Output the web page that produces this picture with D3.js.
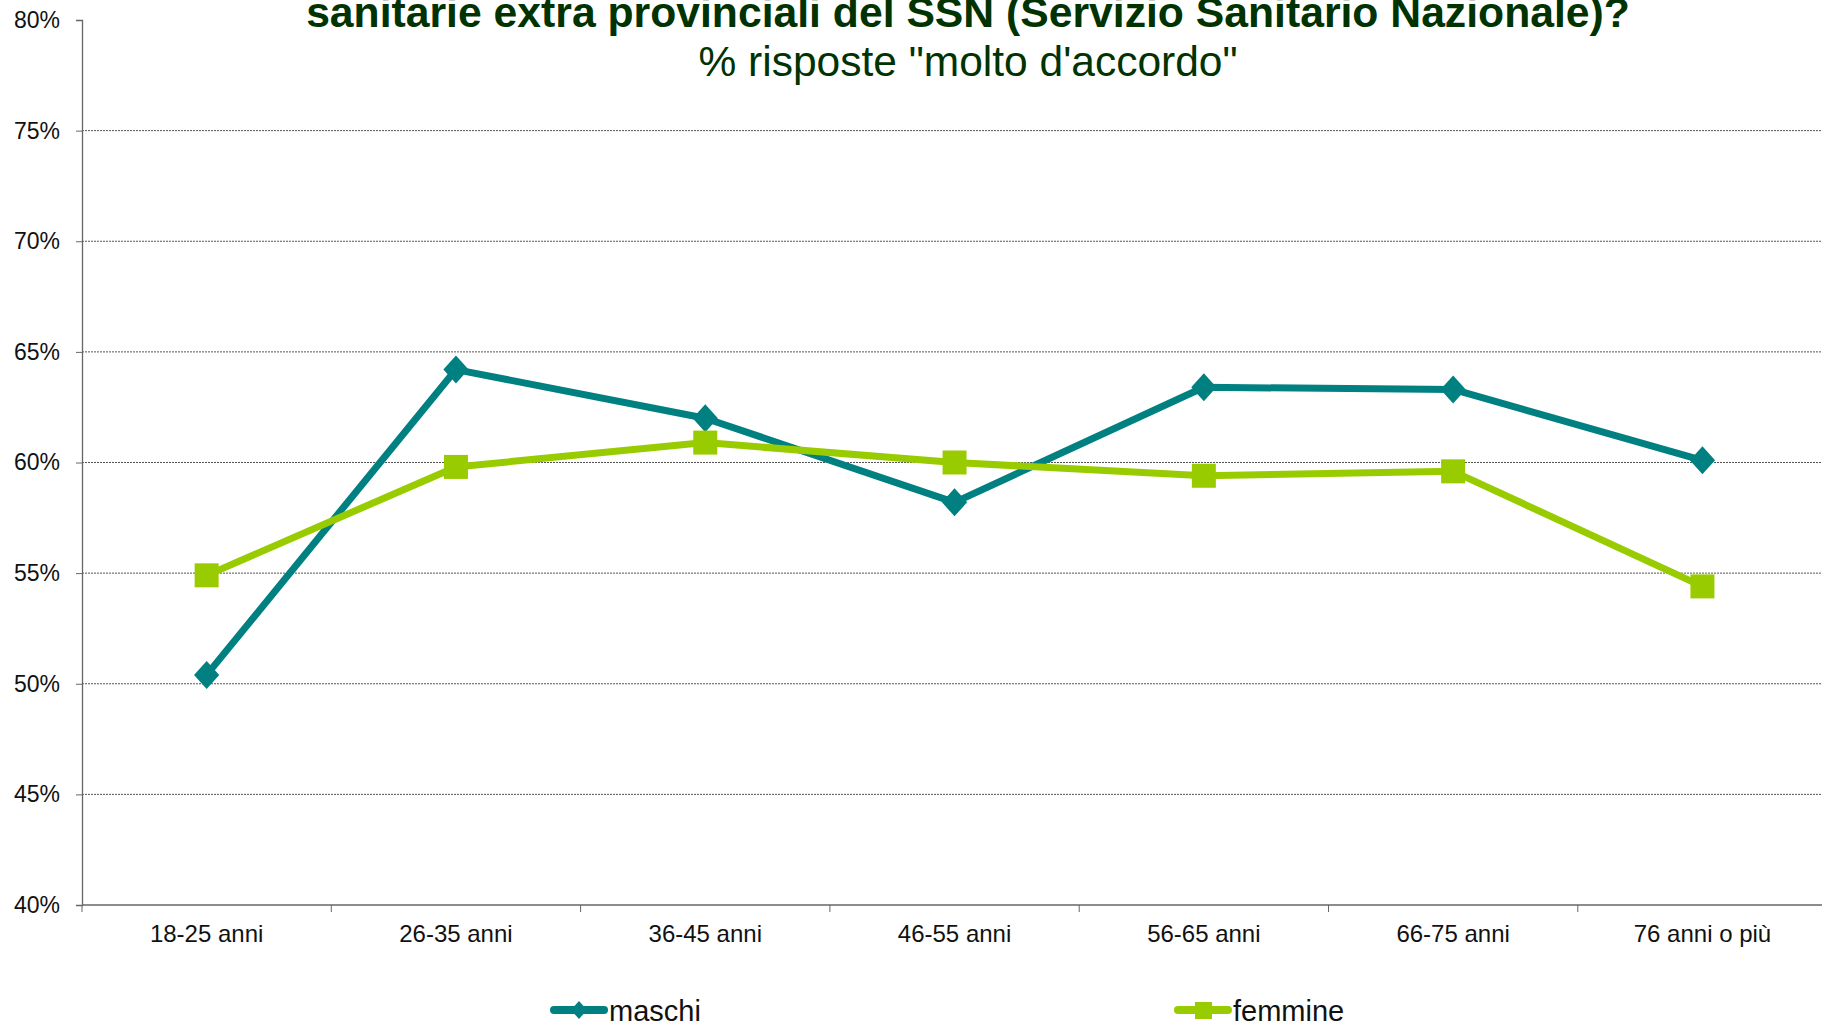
<!DOCTYPE html>
<html><head><meta charset="utf-8">
<script src="https://cdn.jsdelivr.net/npm/d3@7"></script>
<style>
html,body{margin:0;padding:0;background:#fff;overflow:hidden;}
svg{display:block;font-family:"Liberation Sans",Arial,sans-serif;}
</style></head>
<body>
<svg id="chart" width="1822" height="1025"></svg>
<script>
const categories = ["18-25 anni","26-35 anni","36-45 anni","46-55 anni","56-65 anni","66-75 anni","76 anni o più"];
const maschi  = [50.4, 64.2, 62.0, 58.2, 63.4, 63.3, 60.1];
const femmine = [54.9, 59.8, 60.9, 60.0, 59.4, 59.6, 54.4];
const yTicks = [40,45,50,55,60,65,70,75,80];
const titleLine = "sanitarie extra provinciali del SSN (Servizio Sanitario Nazionale)?";
const subtitle = "% risposte \"molto d'accordo\"";
const seriesNames = ["maschi","femmine"];

(function(){
const svg = d3.select("#chart");
const mLeft = 82, mTop = 20, mBottom = 905, band = 249.3;
const x = d3.scaleBand().domain(categories).range([mLeft, mLeft + band*categories.length]);
const y = d3.scaleLinear().domain([40,80]).range([mBottom, mTop]);

// gridlines
svg.append("g").selectAll("line").data(yTicks.filter(t => t>40 && t<80)).join("line")
  .attr("x1", mLeft).attr("x2", 1822)
  .attr("y1", d => y(d)).attr("y2", d => y(d))
  .attr("stroke", "#555").attr("stroke-width", 1).attr("stroke-dasharray", "2,1");

// y axis
const yAxis = d3.axisLeft(y).tickValues(yTicks).tickFormat(d => d + "%").tickSize(6).tickPadding(16);
const gy = svg.append("g").attr("transform", `translate(${mLeft},0)`).call(yAxis);
gy.select(".domain").attr("stroke", "#666").attr("stroke-width", 1.3);
gy.selectAll(".tick line").attr("stroke", "#666");
gy.selectAll("text").attr("font-size", 23).attr("fill", "#111").attr("font-family", "Liberation Sans, Arial, sans-serif");

// x axis
const gx = svg.append("g").attr("transform", `translate(0,${mBottom})`);
gx.append("line").attr("x1", mLeft).attr("x2", 1822).attr("y1", 0).attr("y2", 0).attr("stroke", "#666").attr("stroke-width", 1.3);
const bounds = categories.map(c => x(c));
gx.selectAll("line.tk").data(bounds).join("line").attr("class","tk")
  .attr("x1", d => d).attr("x2", d => d).attr("y1", 0).attr("y2", 7).attr("stroke", "#666");
gx.selectAll("text").data(categories).join("text")
  .attr("x", d => x(d) + x.bandwidth()/2).attr("y", 37)
  .attr("text-anchor", "middle").attr("font-size", 24).attr("fill", "#111").text(d => d);

// lines
const colors = ["#008080", "#99CC00"];
const data = [maschi, femmine];
const line = d3.line().x((d,i) => x(categories[i]) + x.bandwidth()/2).y(d => y(d));
data.forEach((s, k) => {
  svg.append("path").datum(s).attr("d", line).attr("fill", "none")
    .attr("stroke", colors[k]).attr("stroke-width", 7).attr("stroke-linejoin", "round");
});
// markers
const diamond = (cx, cy, r) => `M${cx},${cy-r}L${cx+r*0.9},${cy}L${cx},${cy+r}L${cx-r*0.9},${cy}Z`;
svg.append("g").selectAll("path").data(maschi).join("path")
  .attr("d", (d,i) => diamond(x(categories[i]) + x.bandwidth()/2, y(d), 14))
  .attr("fill", colors[0]);
svg.append("g").selectAll("rect").data(femmine).join("rect")
  .attr("x", (d,i) => x(categories[i]) + x.bandwidth()/2 - 12)
  .attr("y", d => y(d) - 12).attr("width", 24).attr("height", 24)
  .attr("fill", colors[1]);

// title
svg.append("text").attr("x", 968).attr("y", 27).attr("text-anchor", "middle")
  .attr("font-size", 42.7).attr("font-weight", "bold").attr("fill", "#003300").text(titleLine);
svg.append("text").attr("x", 968).attr("y", 76).attr("text-anchor", "middle")
  .attr("font-size", 42.5).attr("fill", "#003300").text(subtitle);

// legend
const legX = [550, 1174];
seriesNames.forEach((n, k) => {
  const g = svg.append("g");
  g.append("line").attr("x1", legX[k]+4).attr("x2", legX[k]+54).attr("y1", 1010).attr("y2", 1010)
    .attr("stroke", colors[k]).attr("stroke-width", 8).attr("stroke-linecap", "round");
  if (k === 0) g.append("path").attr("d", diamond(legX[k]+29, 1010, 9)).attr("fill", colors[k]);
  else g.append("rect").attr("x", legX[k]+21).attr("y", 1002).attr("width", 17).attr("height", 17).attr("fill", colors[k]);
  g.append("text").attr("x", legX[k]+59).attr("y", 1021).attr("font-size", 29).attr("fill", "#111").text(n);
});
})();
</script>
</body></html>
